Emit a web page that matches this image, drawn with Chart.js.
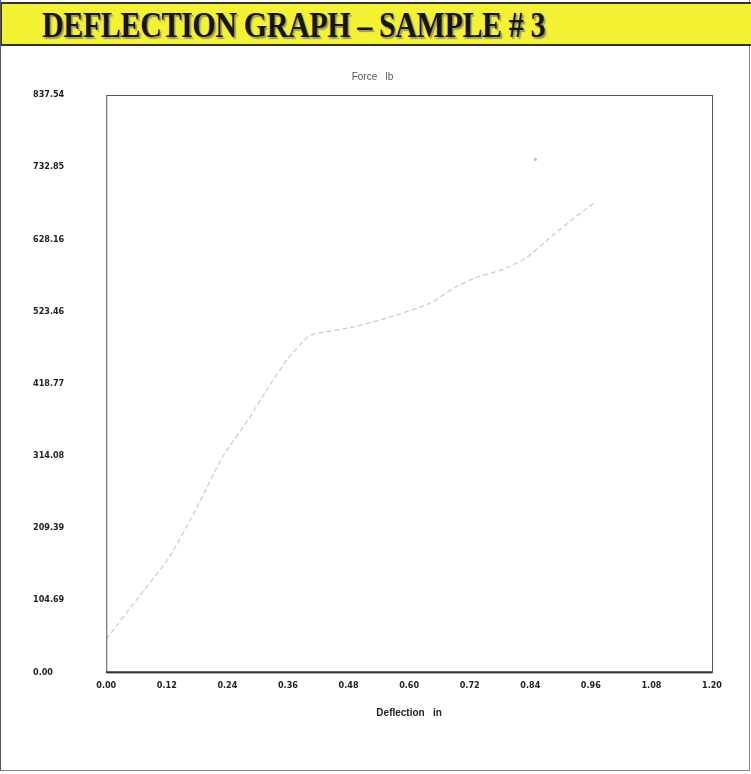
<!DOCTYPE html>
<html>
<head>
<meta charset="utf-8">
<script src="https://cdn.jsdelivr.net/npm/chart.js@4/dist/chart.umd.min.js"></script>
<style>
  html, body { margin: 0; padding: 0; background: #fff; }
  #page { position: relative; width: 751px; height: 774px; overflow: hidden; }
  #frame { position: absolute; left: 0; top: 0; width: 748px; height: 770px; border-left: 1px solid #555; border-right: 1px solid #888; border-bottom: 1px solid #888; }
  #bar { position: absolute; left: 1px; top: 2px; width: 749px; height: 40px; background: #f3f233; border-top: 2px solid #333; border-bottom: 2px solid #333; border-left: 1px solid #333; }
  #bar span { position: absolute; left: 40px; top: 0px; font-family: "Liberation Serif", "DejaVu Serif", serif; font-weight: bold; font-size: 36px; color: #151515; white-space: nowrap; transform: scaleX(0.835); transform-origin: left top; text-shadow: 2px 2px 1px #9a9a60; letter-spacing: -0.5px; }
  #wrap { position: absolute; left: 0; top: 0; width: 751px; height: 774px; }
</style>
</head>
<body>
<div id="page">
  <div id="wrap"><canvas id="myChartDeflection"></canvas></div>
  <div id="frame"></div>
  <div id="bar"><span>DEFLECTION GRAPH – SAMPLE # 3</span></div>
</div>
<script>
// Deflection (in) and Force (lb)
const deflection = [0.00, 0.06, 0.125, 0.18, 0.23, 0.28, 0.32, 0.36, 0.40, 0.42, 0.49, 0.56, 0.64, 0.69, 0.73, 0.78, 0.83, 0.87, 0.92, 0.97];
const force = [48, 105, 167, 240, 312, 365, 412, 455, 487, 492, 501, 515, 535, 558, 572, 583, 600, 625, 655, 683];
// peak marker
const peakDeflection = [0.85];
const peakForce = [744];
// axis ticks
const xTicks = [0.00, 0.12, 0.24, 0.36, 0.48, 0.60, 0.72, 0.84, 0.96, 1.08, 1.20];
const yTicks = [0.00, 104.69, 209.39, 314.08, 418.77, 523.46, 628.16, 732.85, 837.54];

const tickFont = { family: "'Liberation Sans Narrow', 'DejaVu Sans Condensed', 'Liberation Sans', sans-serif", size: 9, weight: 'bold' };

// border round the plot area
const plotBorder = {
    id: 'plotBorder',
    afterDraw(chart) {
        const a = chart.chartArea;
        const ctx = chart.ctx;
        ctx.save();
        ctx.strokeStyle = '#555';
        ctx.lineWidth = 1;
        ctx.strokeRect(a.left + 0.5, a.top + 0.5, a.right - a.left, a.bottom - a.top);
        ctx.strokeStyle = '#333';
        ctx.lineWidth = 2;
        ctx.beginPath();
        ctx.moveTo(a.left, a.bottom);
        ctx.lineTo(a.right, a.bottom);
        ctx.stroke();
        ctx.restore();
    }
};

const dataDeflection = {
    datasets: [{
        label: 'Force',
        data: deflection.map((d, i) => ({ x: d, y: force[i] })),
        showLine: true,
        borderColor: '#cacaca',
        borderWidth: 1.2,
        borderDash: [5, 3],
        pointRadius: 0,
        tension: 0.2
    }, {
        label: 'Peak',
        data: peakDeflection.map((d, i) => ({ x: d, y: peakForce[i] })),
        pointRadius: 1.6,
        pointBackgroundColor: '#bbb',
        pointBorderWidth: 0
    }]
};

const configDeflection = {
    type: 'scatter',
    data: dataDeflection,
    options: {
        responsive: false,
        animation: false,
        layout: { padding: { top: 71, left: 33, right: 39, bottom: 51 } },
        plugins: {
            legend: { display: false },
            tooltip: { enabled: false },
            title: {
                display: true,
                text: 'Force   lb',
                color: '#555',
                font: { family: "'Liberation Sans', Arial, sans-serif", size: 10, weight: 'normal' },
                padding: { top: 0, bottom: 12 }
            }
        },
        scales: {
            x: {
                type: 'linear',
                min: 0,
                max: 1.2,
                afterBuildTicks: axis => { axis.ticks = xTicks.map(v => ({ value: v })); },
                grid: { display: false, drawTicks: false },
                border: { display: false },
                ticks: {
                    color: '#222',
                    font: tickFont,
                    padding: 8,
                    maxRotation: 0,
                    autoSkip: false,
                    callback: v => v.toFixed(2)
                },
                title: {
                    display: true,
                    text: 'Deflection   in',
                    color: '#222',
                    font: { family: "'Liberation Sans', Arial, sans-serif", size: 10, weight: 'bold' },
                    padding: { top: 8 }
                }
            },
            y: {
                min: 0,
                max: 837.54,
                afterBuildTicks: axis => { axis.ticks = yTicks.map(v => ({ value: v })); },
                grid: { display: false, drawTicks: false },
                border: { display: false },
                ticks: {
                    color: '#222',
                    font: tickFont,
                    padding: 21,
                    crossAlign: 'far',
                    autoSkip: false,
                    callback: v => v.toFixed(2)
                }
            }
        }
    },
    plugins: [plotBorder]
};

const canvas = document.getElementById('myChartDeflection');
canvas.width = 751;
canvas.height = 774;
let myChartDeflection = new Chart(canvas, configDeflection);
</script>
</body>
</html>
